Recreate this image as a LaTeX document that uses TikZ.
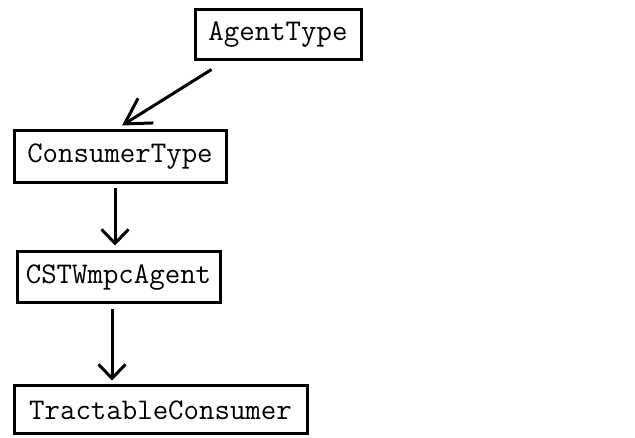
\documentclass[tikz,border=0pt]{standalone}
\usetikzlibrary{arrows.meta}

\tikzset{
  classbox/.style={draw, line width=3pt, inner sep=0pt, font=\ttfamily\fontsize{30}{34}\selectfont},
  inherit/.style={line width=3pt, -{Straight Barb[length=14pt, width=27pt, line width=3pt]}},
  inheritlong/.style={line width=3pt, -{Straight Barb[length=25pt, width=29pt, line width=3pt]}}
}

\begin{document}
\begin{tikzpicture}[x=1pt, y=-1pt]
\useasboundingbox (0,0) rectangle (635,438);
\node[classbox, minimum width=166pt, minimum height=50pt] (agent) at (278,35) {AgentType};
\node[classbox, minimum width=212pt, minimum height=52pt] (consumer) at (120,157) {ConsumerType};
\node[classbox, minimum width=203pt, minimum height=51pt] (cstw) at (118.5,277.5) {CSTWmpcAgent};
\node[classbox, minimum width=293pt, minimum height=48pt] (tractable) at (160.5,410) {TractableConsumer};
% inheritance arrows
\draw[inheritlong] ([shift={(18pt,-8pt)}]agent.south west) -- ([shift={(2pt,4pt)}]consumer.north);
\draw[inherit] ([shift={(-5pt,-4pt)}]consumer.south) -- ([shift={(-3.5pt,5pt)}]cstw.north);
\draw[inherit] ([shift={(-6.5pt,-5pt)}]cstw.south) -- ([shift={(-48.5pt,4pt)}]tractable.north);
\end{tikzpicture}
\end{document}
